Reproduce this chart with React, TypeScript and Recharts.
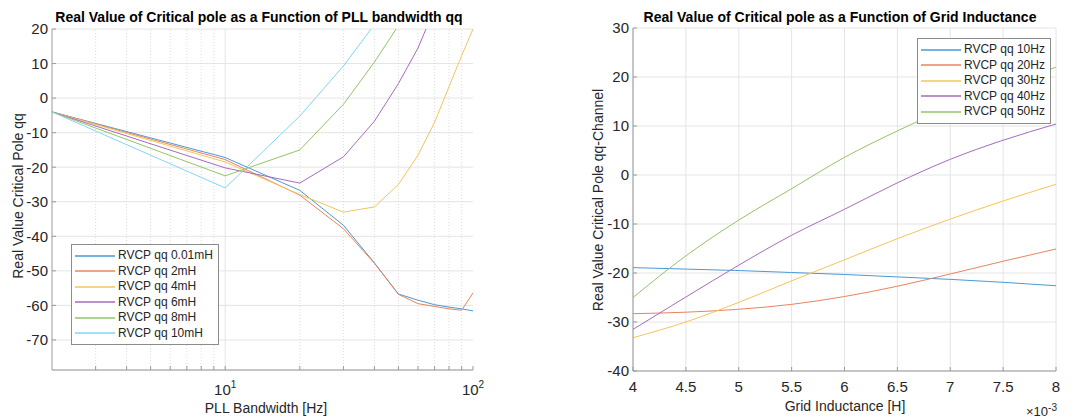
import React from 'react'
import { LineChart, Line, XAxis, YAxis, CartesianGrid, ReferenceLine, Legend } from 'recharts'

const FONT = '"Liberation Sans", Arial, Helvetica, sans-serif'
const INK = '#262626'
const BOX = '#9a9a9a'
const GRID = '#e4e4e4'

// left plot: critical pole vs PLL bandwidth, one line per grid inductance
const bandwidthHz = [2, 10, 20, 30, 40, 50, 60, 70, 80, 90, 100]
const rvcp001mH = [-4, -17.2, -26.7, -36.8, -47.7, -56.7, -58.5, -59.8, -60.5, -61.0, -61.6]
const rvcp2mH = [-4, -17.8, -28.1, -37.8, -47.8, -56.8, -59.5, -60.3, -61.0, -61.4, -56.4]
const rvcp4mH = [-4, -18.5, -27.9, -33.0, -31.5, -25.0, -16.5, -7.0, 3.3, 12.3, 20.0]
const rvcp6mH = [-4, -20.2, -24.6, -17.0, -6.7, 4.2, 14.5, 26.0, null, null, null]
const rvcp8mH = [-4, -22.5, -15.0, -1.8, 10.4, 21.0, null, null, null, null, null]
const rvcp10mH = [-4, -26.0, -5.2, 9.3, 21.3, null, null, null, null, null, null]
const bwMajorTicks = [10, 100]
const bwMinorTicks = [3, 4, 5, 6, 7, 8, 9, 20, 30, 40, 50, 60, 70, 80, 90]
const bwYTicks = [-70, -60, -50, -40, -30, -20, -10, 0, 10, 20]

// right plot: critical pole vs grid inductance, one line per PLL bandwidth
const inductanceH = [0.004, 0.0045, 0.005, 0.0055, 0.006, 0.0065, 0.007, 0.0075, 0.008]
const rvcp10Hz = [-18.9, -19.2, -19.5, -19.9, -20.3, -20.8, -21.3, -21.9, -22.6]
const rvcp20Hz = [-28.3, -28.0, -27.4, -26.4, -24.8, -22.7, -20.2, -17.6, -15.1]
const rvcp30Hz = [-33.2, -30.0, -26.0, -21.6, -17.3, -13.0, -9.0, -5.3, -1.9]
const rvcp40Hz = [-31.5, -24.9, -18.4, -12.3, -7.0, -1.6, 3.2, 7.1, 10.4]
const rvcp50Hz = [-25.0, -16.5, -9.2, -2.8, 3.6, 9.0, 13.9, 18.2, 22.0]
const lTicks = [0.004, 0.0045, 0.005, 0.0055, 0.006, 0.0065, 0.007, 0.0075, 0.008]
const lYTicks = [-40, -30, -20, -10, 0, 10, 20, 30]

const COLORS = ['#4a9ad6', '#e8845e', '#f4c55a', '#a66bbd', '#93c467', '#84d4f5']

const leftSeries = [
  { key: 's001', name: 'RVCP qq 0.01mH', values: rvcp001mH },
  { key: 's2', name: 'RVCP qq 2mH', values: rvcp2mH },
  { key: 's4', name: 'RVCP qq 4mH', values: rvcp4mH },
  { key: 's6', name: 'RVCP qq 6mH', values: rvcp6mH },
  { key: 's8', name: 'RVCP qq 8mH', values: rvcp8mH },
  { key: 's10', name: 'RVCP qq 10mH', values: rvcp10mH },
]

const rightSeries = [
  { key: 'f10', name: 'RVCP qq 10Hz', values: rvcp10Hz },
  { key: 'f20', name: 'RVCP qq 20Hz', values: rvcp20Hz },
  { key: 'f30', name: 'RVCP qq 30Hz', values: rvcp30Hz },
  { key: 'f40', name: 'RVCP qq 40Hz', values: rvcp40Hz },
  { key: 'f50', name: 'RVCP qq 50Hz', values: rvcp50Hz },
]

const leftData = bandwidthHz.map((bw, i) => {
  const row: Record<string, number | null> = { bw }
  leftSeries.forEach(s => { row[s.key] = s.values[i] })
  return row
})

const rightData = inductanceH.map((l, i) => {
  const row: Record<string, number | null> = { l }
  rightSeries.forEach(s => { row[s.key] = s.values[i] })
  return row
})

const tickStyle = { fontSize: 15, fill: INK, fontFamily: FONT }
const allBwTicks = [...bwMinorTicks, ...bwMajorTicks].sort((a, b) => a - b)

// only label the decades, minor ticks just get a tick mark
const PowerTick = ({ x, y, payload }: any) => {
  const p = Math.log10(payload.value)
  if (Math.abs(p - Math.round(p)) > 1e-6) return <g />
  return (
    <text x={x} y={y + 21} textAnchor="middle" fontSize={15} fill={INK} fontFamily={FONT}>
      10<tspan dy={-7} fontSize={10}>{Math.round(p)}</tspan>
    </text>
  )
}

const BoxLegend = ({ payload, order }: any) => {
  const items = [...(payload || [])].sort((a: any, b: any) => order.indexOf(a.value) - order.indexOf(b.value))
  return (
    <div style={{
      border: '1px solid #8c8c8c', background: '#fff', padding: '3px 5px 3px 3px',
      fontSize: 12, color: INK, fontFamily: FONT, lineHeight: '15.5px',
    }}>
      {items.map((p: any) => (
        <div key={p.value} style={{ display: 'flex', alignItems: 'center', whiteSpace: 'nowrap' }}>
          <svg width={40} height={6} style={{ marginRight: 3 }}>
            <line x1={0} x2={40} y1={3} y2={3} stroke={p.color} strokeWidth={1.5} />
          </svg>
          {p.value}
        </div>
      ))}
    </div>
  )
}

const Text = ({ x, y, children, size = 14, bold = false, rotate = false }: any) => (
  <div style={{
    position: 'absolute', left: x, top: y, whiteSpace: 'nowrap', fontSize: size,
    fontWeight: bold ? 'bold' : 'normal', color: bold ? '#000' : INK,
    transform: `translate(-50%, -50%)${rotate ? ' rotate(-90deg)' : ''}`,
  }}>
    {children}
  </div>
)

export default function App() {
  return (
    <div style={{
      position: 'absolute', left: 0, top: 0, width: 1076, height: 419,
      background: '#fff', fontFamily: FONT, overflow: 'hidden',
    }}>
      <div style={{ position: 'absolute', left: 0, top: 0 }}>
        <LineChart width={538} height={419} data={leftData}
          margin={{ top: 29, right: 65, bottom: 19, left: 12 }} style={{ fontFamily: FONT }}>
          <CartesianGrid vertical={false} stroke={GRID} />
          {bwMinorTicks.map(v => (
            <ReferenceLine key={v} x={v} stroke="#dcdcdc" strokeDasharray="1 2" />
          ))}
          <ReferenceLine x={10} stroke={GRID} />
          <XAxis dataKey="bw" type="number" scale="log" domain={[2, 100]} allowDataOverflow
            ticks={allBwTicks} interval={0} tick={<PowerTick />} tickLine={{ stroke: BOX }}
            tickSize={-4} tickMargin={8} axisLine={{ stroke: BOX }} height={30} />
          <XAxis xAxisId="top" orientation="top" type="number" scale="log" domain={[2, 100]}
            allowDataOverflow ticks={allBwTicks} interval={0} tick={false}
            tickLine={{ stroke: BOX }} tickSize={-4} axisLine={{ stroke: BOX }} height={0} />
          <YAxis type="number" domain={[-78.7, 20]} allowDataOverflow ticks={bwYTicks} interval={0}
            tick={tickStyle} tickLine={{ stroke: BOX }} tickSize={-4} tickMargin={8}
            axisLine={{ stroke: BOX }} width={40} />
          <YAxis yAxisId="right" orientation="right" type="number" domain={[-78.7, 20]}
            allowDataOverflow ticks={bwYTicks} interval={0} tick={false}
            tickLine={{ stroke: BOX }} tickSize={-4} axisLine={{ stroke: BOX }} width={0} />
          {leftSeries.map((s, i) => (
            <Line key={s.key} dataKey={s.key} name={s.name} type="linear" stroke={COLORS[i]}
              strokeWidth={1} dot={false} isAnimationActive={false} />
          ))}
          <Legend content={<BoxLegend order={leftSeries.map(s => s.name)} />} layout="vertical"
            align="center" verticalAlign="middle"
            wrapperStyle={{ left: 71, top: 244, width: 'auto', height: 'auto' }} />
        </LineChart>
      </div>

      <div style={{ position: 'absolute', left: 538, top: 0 }}>
        <LineChart width={538} height={419} data={rightData}
          margin={{ top: 28, right: 20, bottom: 18, left: 55 }} style={{ fontFamily: FONT }}>
          <CartesianGrid stroke={GRID} />
          <XAxis dataKey="l" type="number" domain={[0.004, 0.008]} ticks={lTicks} interval={0}
            tickFormatter={(v: number) => String(Math.round(v * 10000) / 10)}
            tick={tickStyle} tickLine={{ stroke: BOX }} tickSize={-4} tickMargin={14}
            axisLine={{ stroke: BOX }} height={30} />
          <XAxis xAxisId="top" orientation="top" type="number" domain={[0.004, 0.008]}
            ticks={lTicks} interval={0} tick={false} tickLine={{ stroke: BOX }} tickSize={-4}
            axisLine={{ stroke: BOX }} height={0} />
          <YAxis type="number" domain={[-40, 30]} ticks={lYTicks} interval={0} tick={tickStyle}
            tickLine={{ stroke: BOX }} tickSize={-4} tickMargin={8} axisLine={{ stroke: BOX }} width={40} />
          <YAxis yAxisId="right" orientation="right" type="number" domain={[-40, 30]}
            ticks={lYTicks} interval={0} tick={false} tickLine={{ stroke: BOX }} tickSize={-4}
            axisLine={{ stroke: BOX }} width={0} />
          {rightSeries.map((s, i) => (
            <Line key={s.key} dataKey={s.key} name={s.name} type="monotone" stroke={COLORS[i]}
              strokeWidth={1} dot={false} isAnimationActive={false} />
          ))}
          <Legend content={<BoxLegend order={rightSeries.map(s => s.name)} />} layout="vertical"
            align="center" verticalAlign="middle"
            wrapperStyle={{ left: 379, top: 38, width: 'auto', height: 'auto' }} />
        </LineChart>
      </div>

      <Text x={259} y={17} bold>Real Value of Critical pole as a Function of PLL bandwidth qq</Text>
      <Text x={18} y={196} rotate>Real Value Critical Pole qq</Text>
      <Text x={266} y={408}>PLL Bandwidth [Hz]</Text>

      <Text x={840} y={17} bold>Real Value of Critical pole as a Function of Grid Inductance</Text>
      <Text x={598} y={200} rotate>Real Value Critical Pole qq-Channel</Text>
      <Text x={845} y={406}>Grid Inductance [H]</Text>
      <div style={{ position: 'absolute', left: 1026, top: 402, fontSize: 13, color: INK, whiteSpace: 'nowrap' }}>
        ×10<sup style={{ fontSize: 10 }}>-3</sup>
      </div>
    </div>
  )
}
